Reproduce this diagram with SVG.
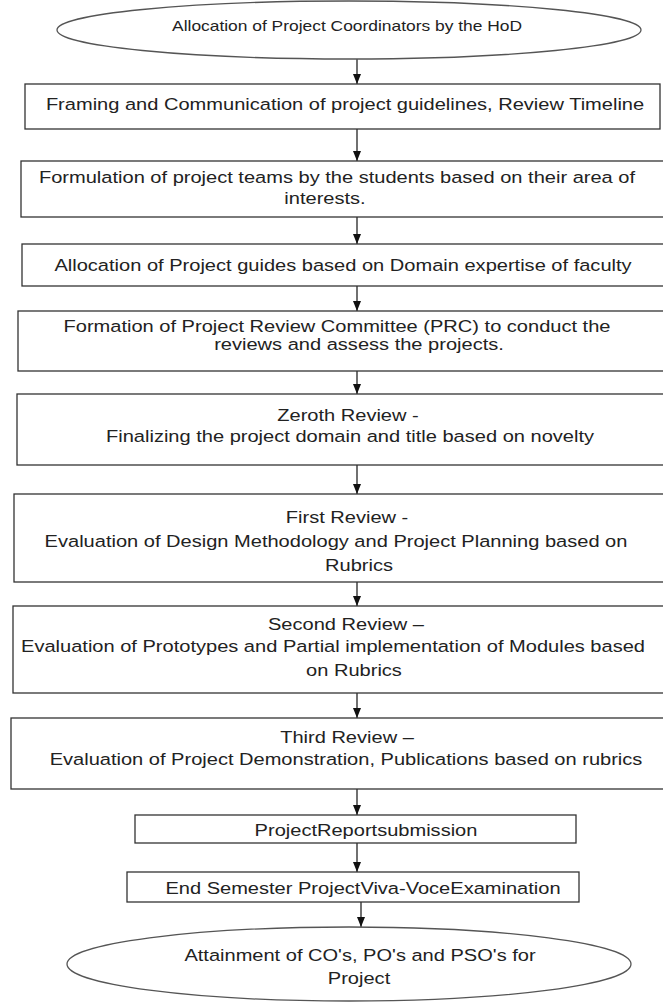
<svg xmlns="http://www.w3.org/2000/svg" width="663" height="1004" viewBox="0 0 663 1004">
  <style>
    .node { fill: #ffffff; stroke: #333333; stroke-width: 1.3; }
    .term { fill: #ffffff; stroke: #555555; stroke-width: 1.3; }
    .lbl { font-family: "Liberation Sans", Arial, sans-serif; font-size: 17px; fill: #222222; text-anchor: middle; }
    .small { font-size: 15px; }
    .edge { stroke: #111111; stroke-width: 1.2; fill: none; marker-end: url(#arrow); }
  </style>
  <defs>
    <marker id="arrow" viewBox="0 0 10 12" refX="10" refY="6" markerWidth="10" markerHeight="12" markerUnits="userSpaceOnUse" orient="auto">
      <path d="M0,2 L10,6 L0,10 Z" fill="#111111"/>
    </marker>
  </defs>

  <rect width="663" height="1004" fill="#ffffff"/>

  <!-- connectors: straight vertical arrows between consecutive steps -->
  <g id="connectors">
    <line class="edge" x1="357" y1="59" x2="357" y2="84"/>
    <line class="edge" x1="357" y1="129" x2="357" y2="161"/>
    <line class="edge" x1="357" y1="217" x2="357" y2="244"/>
    <line class="edge" x1="357" y1="286" x2="357" y2="311"/>
    <line class="edge" x1="357" y1="371" x2="357" y2="394"/>
    <line class="edge" x1="357" y1="465" x2="357" y2="494"/>
    <line class="edge" x1="357" y1="582" x2="357" y2="606"/>
    <line class="edge" x1="357" y1="693" x2="357" y2="718"/>
    <line class="edge" x1="357" y1="789" x2="357" y2="815"/>
    <line class="edge" x1="357" y1="843" x2="357" y2="872"/>
    <line class="edge" x1="361" y1="902" x2="361" y2="927"/>
  </g>

  <!-- labels are stretched horizontally to the wide lettering of the chart -->
  <g id="start">
    <ellipse class="term" cx="349" cy="30" rx="292" ry="29"/>
    <text class="lbl small" transform="translate(347 31) scale(1.16 1)">Allocation of Project Coordinators  by the HoD</text>
  </g>

  <g id="guidelines">
    <rect class="node" x="25" y="84" width="635" height="45"/>
    <text class="lbl" transform="translate(345 110) scale(1.18 1)">Framing and Communication of project guidelines, Review Timeline</text>
  </g>

  <g id="teams">
    <rect class="node" x="21" y="161" width="660" height="56"/>
    <text class="lbl" transform="translate(337 183) scale(1.18 1)">Formulation of project teams by the students based on their area of</text>
    <text class="lbl" transform="translate(325 204) scale(1.18 1)">interests.</text>
  </g>

  <g id="guides">
    <rect class="node" x="22" y="244" width="660" height="42"/>
    <text class="lbl" transform="translate(343 271) scale(1.18 1)">Allocation of Project guides based on Domain expertise of faculty</text>
  </g>

  <g id="prc">
    <rect class="node" x="18" y="311" width="660" height="60"/>
    <text class="lbl" transform="translate(337 332) scale(1.18 1)">Formation of Project Review Committee (PRC) to conduct the</text>
    <text class="lbl" transform="translate(359 350) scale(1.18 1)">reviews and assess the projects.</text>
  </g>

  <g id="zeroth">
    <rect class="node" x="17" y="394" width="660" height="71"/>
    <text class="lbl" transform="translate(348 421) scale(1.18 1)">Zeroth Review -</text>
    <text class="lbl" transform="translate(350 442) scale(1.18 1)">Finalizing the project domain and title based on novelty</text>
  </g>

  <g id="first">
    <rect class="node" x="14" y="494" width="665" height="88"/>
    <text class="lbl" transform="translate(347 523) scale(1.18 1)">First Review -</text>
    <text class="lbl" transform="translate(336 547) scale(1.18 1)">Evaluation of Design Methodology  and Project Planning based on</text>
    <text class="lbl" transform="translate(359 571) scale(1.18 1)">Rubrics</text>
  </g>

  <g id="second">
    <rect class="node" x="13" y="606" width="665" height="87"/>
    <text class="lbl" transform="translate(346 630) scale(1.18 1)">Second Review –</text>
    <text class="lbl" transform="translate(333 652) scale(1.18 1)">Evaluation of Prototypes and Partial implementation of Modules based</text>
    <text class="lbl" transform="translate(354 676) scale(1.18 1)">on Rubrics</text>
  </g>

  <g id="third">
    <rect class="node" x="11" y="718" width="665" height="71"/>
    <text class="lbl" transform="translate(347 743) scale(1.18 1)">Third Review –</text>
    <text class="lbl" transform="translate(346 765) scale(1.18 1)">Evaluation of Project Demonstration, Publications based on rubrics</text>
  </g>

  <g id="report">
    <rect class="node" x="135" y="815" width="441" height="28"/>
    <text class="lbl" transform="translate(366 836) scale(1.18 1)">ProjectReportsubmission</text>
  </g>

  <g id="viva">
    <rect class="node" x="127" y="872" width="452" height="30"/>
    <text class="lbl" transform="translate(363 894) scale(1.18 1)">End Semester ProjectViva-VoceExamination</text>
  </g>

  <g id="attainment">
    <ellipse class="term" cx="349" cy="964" rx="282" ry="37"/>
    <text class="lbl" transform="translate(360 961) scale(1.18 1)">Attainment of CO's, PO's and PSO's for</text>
    <text class="lbl" transform="translate(359 984) scale(1.18 1)">Project</text>
  </g>
</svg>
